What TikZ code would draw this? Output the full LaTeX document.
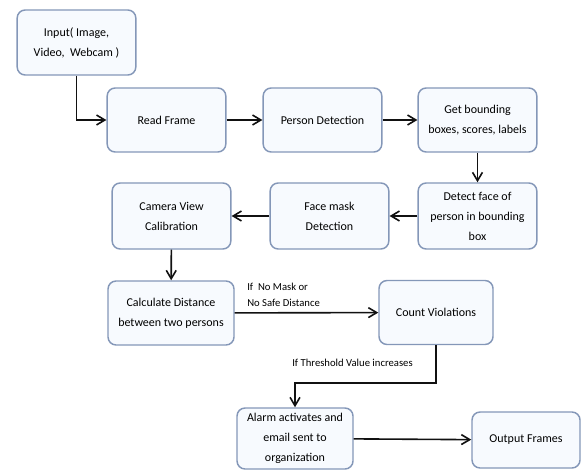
\documentclass[tikz,border=0pt]{standalone}
\usepackage{fontspec}
\setmainfont{Carlito}
\usepackage{tikz}
\usetikzlibrary{arrows.meta,positioning}
\definecolor{edgec}{HTML}{8497B8}
\definecolor{boxbg}{HTML}{F7FAFE}
\definecolor{linec}{HTML}{111111}
\tikzset{
  ar/.style={-{Straight Barb[length=2.2mm,width=2.6mm]},line width=1.2pt,linec},
  box/.style={draw=edgec,line width=1.1pt,rounded corners=6pt,fill=boxbg,align=center,
    inner sep=2pt,minimum width=89pt,minimum height=48pt,font=\fontsize{9}{15}\selectfont},
  cond/.style={align=left,anchor=west,inner sep=0pt,font=\fontsize{8}{12}\selectfont}
}
\begin{document}
\begin{tikzpicture}[x=0.75pt,y=-0.75pt]
\useasboundingbox (0,0) rectangle (581,470);
% first row
\node[box,minimum height=48.75pt] (inp) at (76.5,42.5) {Input( Image,\\Video,\ \ Webcam )};
\node[box] (rf) at (166.5,120) {Read Frame};
\node[box] (pd) at (322.5,120) {Person Detection};
\node[box] (gb) at (477.5,120) {Get bounding\\boxes, scores, labels};
% second row
\node[box,minimum height=49.5pt] (df) at (477.5,216) {Detect face of\\person in bounding\\box};
\node[box,minimum height=49.5pt] (fm) at (329.5,216) {Face mask\\Detection};
\node[box,minimum height=49.5pt] (cv) at (171.5,216) {Camera View\\Calibration};
% third row
\node[box,minimum width=94.5pt] (cd) at (171,313) {Calculate Distance\\between two persons};
\node[box,minimum width=85.5pt] (cnt) at (436,312.5) {Count Violations};
% last row
\node[box,minimum width=87pt,minimum height=45.75pt] (al) at (295,438.5) {Alarm activates and\\email sent to\\organization};
\node[box,minimum width=81pt,minimum height=42pt] (out) at (526,440) {Output Frames};
% conditions
\node[cond] (nomask) at (247,295) {If\ \ No Mask or\\No Safe Distance};
\node[cond] (thres) at (292,363) {If Threshold Value increases};
% arrows
\draw[ar] (inp) |- (rf);
\draw[ar] (rf) -- (pd);
\draw[ar] (pd) -- (gb);
\draw[ar] (gb) -- (df);
\draw[ar] (df) -- (fm);
\draw[ar] (fm) -- (cv);
\draw[ar] (cv) -- (cd);
\draw[ar] (cd) -- (cnt);
\draw[ar] (cnt.south) -- ++(0,38) -| (al.north);
\draw[ar] (al) -- (out);
\end{tikzpicture}
\end{document}
